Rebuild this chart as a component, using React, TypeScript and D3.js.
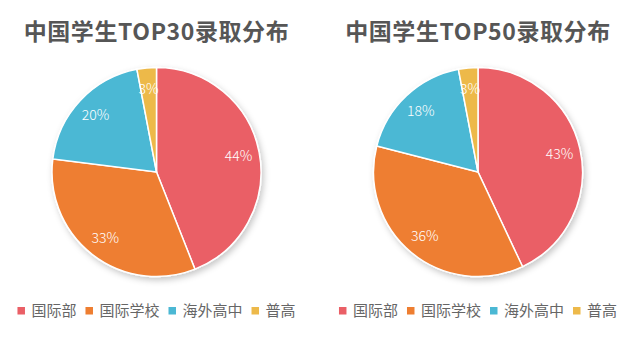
import React, { useEffect, useRef } from 'react';
import * as d3 from 'd3';

// Categories and values (percent)
const categories = ['国际部', '国际学校', '海外高中', '普高'];
const colors = ['#EA5F66', '#EE7E31', '#4BB8D4', '#EDB94A'];
const top30Values = [44, 33, 20, 3];
const top50Values = [43, 36, 18, 3];
const titles = ['中国学生TOP30录取分布', '中国学生TOP50录取分布'];

const W = 637;
const H = 352;
const FONT = '"Noto Sans CJK SC", "Microsoft YaHei", sans-serif';

const App = () => {
  const ref = useRef<SVGSVGElement | null>(null);

  useEffect(() => {
    const svg = d3.select(ref.current);
    svg.selectAll('*').remove();

    // soft shadow under the pies
    const defs = svg.append('defs');
    const filter = defs.append('filter').attr('id', 'pie-shadow')
      .attr('x', '-20%').attr('y', '-20%').attr('width', '140%').attr('height', '140%');
    filter.append('feDropShadow')
      .attr('dx', 2).attr('dy', 3).attr('stdDeviation', 3)
      .attr('flood-color', '#000').attr('flood-opacity', 0.22);

    const charts = [
      { title: titles[0], values: top30Values, cx: 156.5 },
      { title: titles[1], values: top50Values, cx: 478 },
    ];
    const cy = 172;
    const radius = 104.5;

    const pie = d3.pie<number>().sort(null).value(d => d);
    const arc = d3.arc<d3.PieArcDatum<number>>().innerRadius(0).outerRadius(radius);
    const labelArc = d3.arc<d3.PieArcDatum<number>>()
      .innerRadius(radius * 0.8).outerRadius(radius * 0.8);

    charts.forEach(chart => {
      // title
      svg.append('text')
        .attr('x', chart.cx)
        .attr('y', 40)
        .attr('text-anchor', 'middle')
        .attr('font-family', FONT)
        .attr('font-size', 23)
        .attr('letter-spacing', 0.6)
        .attr('font-weight', 'bold')
        .attr('fill', '#565656')
        .text(chart.title);

      const g = svg.append('g').attr('transform', `translate(${chart.cx},${cy})`);
      const arcs = pie(chart.values);

      g.append('g')
        .attr('filter', 'url(#pie-shadow)')
        .selectAll('path')
        .data(arcs)
        .enter()
        .append('path')
        .attr('d', arc)
        .attr('fill', (d, i) => colors[i])
        .attr('stroke', '#fff')
        .attr('stroke-width', 1.5);

      g.selectAll('text.pct')
        .data(arcs)
        .enter()
        .append('text')
        .attr('class', 'pct')
        .attr('transform', d => `translate(${labelArc.centroid(d)})`)
        .attr('text-anchor', 'middle')
        .attr('dy', '0.35em')
        .attr('font-family', FONT)
        .attr('font-size', 14)
        .attr('font-weight', 300)
        .attr('fill', '#ffffff')
        .text(d => `${d.data}%`);

      // legend, centred under the pie
      const legend = svg.append('g');
      let x = 0;
      categories.forEach((c, i) => {
        legend.append('rect')
          .attr('x', x)
          .attr('y', -4)
          .attr('width', 7.5)
          .attr('height', 7.5)
          .attr('fill', colors[i]);
        const t = legend.append('text')
          .attr('x', x + 14)
          .attr('y', 0)
          .attr('dy', '0.35em')
          .attr('font-family', FONT)
          .attr('font-size', 15)
          .attr('fill', '#666666')
          .text(c);
        const tw = (t.node() as SVGTextElement).getComputedTextLength();
        x += 14 + tw + 9;
      });
      const total = x - 9;
      legend.attr('transform', `translate(${chart.cx - total / 2},311)`);
    });
  }, []);

  return (
    <div style={{ position: 'fixed', left: 0, top: 0, width: W, height: H, background: '#fff' }}>
      <svg ref={ref} width={W} height={H} style={{ display: 'block' }} />
    </div>
  );
};

export default App;
